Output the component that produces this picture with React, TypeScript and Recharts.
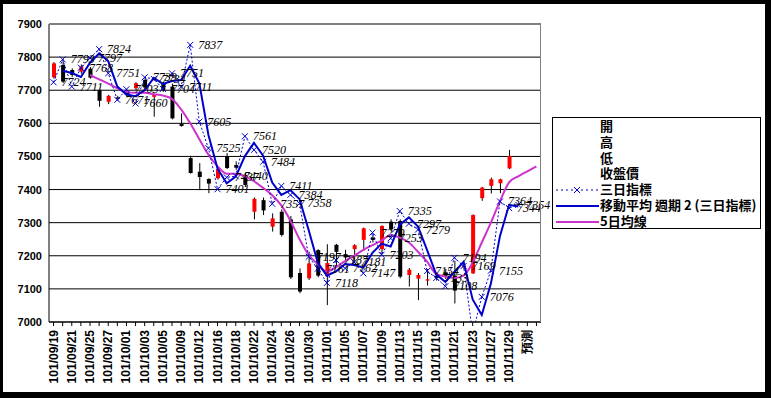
import React from 'react';
import { ComposedChart, Bar, Line, XAxis, YAxis, CartesianGrid, LabelList } from 'recharts';

// trading days, the last two slots are the forecast columns
const dates = [
  '101/09/19', '101/09/20', '101/09/21', '101/09/24', '101/09/25', '101/09/26', '101/09/27', '101/09/28',
  '101/10/01', '101/10/02', '101/10/03', '101/10/04', '101/10/05', '101/10/08', '101/10/09', '101/10/11',
  '101/10/12', '101/10/15', '101/10/16', '101/10/17', '101/10/18', '101/10/19', '101/10/22', '101/10/23',
  '101/10/24', '101/10/25', '101/10/26', '101/10/29', '101/10/30', '101/10/31', '101/11/01', '101/11/02',
  '101/11/05', '101/11/06', '101/11/07', '101/11/08', '101/11/09', '101/11/12', '101/11/13', '101/11/14',
  '101/11/15', '101/11/16', '101/11/19', '101/11/20', '101/11/21', '101/11/22', '101/11/23', '101/11/26',
  '101/11/27', '101/11/28', '101/11/29', '101/11/30', '預測', '',
];

// 開 高 低 收盤價
const opens = [
  7739, 7776, 7761, 7756, 7765, 7700, 7665, 7678, 7695, 7706, 7731, 7680, 7720, 7711, 7598, 7495,
  7454, 7432, 7434, 7500, 7474, 7444, 7333, 7368, 7288, 7333, 7310, 7148, 7132, 7217, 7138, 7233,
  7205, 7220, 7248, 7255, 7220, 7303, 7305, 7142, 7131, 7125, 7140, 7150, 7140, 7165, 7147, 7374,
  7411, 7419, 7464,
];
const highs = [
  7785, 7793, 7766, 7778, 7770, 7703, 7686, 7683, 7700, 7724, 7738, 7690, 7725, 7720, 7630, 7502,
  7480, 7434, 7468, 7510, 7485, 7448, 7376, 7376, 7328, 7340, 7320, 7162, 7212, 7220, 7235, 7236,
  7218, 7235, 7285, 7262, 7292, 7310, 7310, 7163, 7148, 7160, 7150, 7160, 7185, 7175, 7325, 7408,
  7436, 7433, 7520,
];
const lows = [
  7735, 7722, 7740, 7750, 7735, 7650, 7658, 7668, 7680, 7700, 7700, 7620, 7695, 7612, 7590, 7448,
  7398, 7389, 7430, 7462, 7460, 7408, 7310, 7323, 7273, 7258, 7130, 7087, 7127, 7135, 7051, 7167,
  7180, 7178, 7215, 7240, 7205, 7275, 7132, 7107, 7066, 7110, 7125, 7130, 7056, 7160, 7145, 7366,
  7388, 7389, 7462,
];
const closes = [
  7781, 7726, 7746, 7772, 7738, 7668, 7683, 7674, 7685, 7721, 7708, 7686, 7700, 7615, 7592, 7450,
  7438, 7418, 7462, 7465, 7466, 7414, 7372, 7337, 7313, 7263, 7135, 7092, 7177, 7140, 7178, 7212,
  7195, 7232, 7283, 7248, 7290, 7280, 7137, 7158, 7142, 7129, 7133, 7140, 7095, 7170, 7323, 7406,
  7431, 7431, 7501,
];

// 三日指標
const threeDay = [
  7724, 7793, 7711, 7768, 7797, 7824, 7751, 7671, 7703, 7660, 7739, 7734, 7704, 7751, 7711, 7837,
  7605, 7525, 7401, 7437, 7440, 7561, 7520, 7484, 7357, 7411, 7384, 7358, 7197, 7161, 7118, 7187,
  7162, 7181, 7147, 7270, 7203, 7253, 7335, 7297, 7279, 7154, 7133, 7108, 7194, 7169, 6966, 7076,
  7155, 7364, 7344, 7354,
];

// 移動平均 週期 2 (三日指標)
const threeDayAvg = [
  null, 7759, 7752, 7740, 7783, 7811, 7788, 7711, 7687, 7682, 7700, 7737, 7719, 7728, 7731, 7774,
  7721, 7565, 7463, 7419, 7439, 7501, 7541, 7502, 7421, 7384, 7398, 7371, 7278, 7179, 7140, 7153,
  7175, 7172, 7164, 7209, 7237, 7228, 7294, 7316, 7288, 7217, 7144, 7121, 7151, 7182, 7068, 7021,
  7116, 7260, 7354, 7349,
];

// 5日均線
const ma5 = [
  null, null, null, null, 7746, 7733, 7720, 7706, 7695, 7692, 7692, 7688, 7684, 7674, 7642, 7600,
  7552, 7505, 7470, 7448, 7448, 7440, 7425, 7405, 7383, 7352, 7306, 7250, 7203, 7174, 7152, 7166,
  7184, 7200, 7218, 7232, 7246, 7262, 7255, 7240, 7212, 7182, 7145, 7137, 7133, 7140, 7180, 7240,
  7300, 7365, 7422, 7440, 7455, 7470,
];

const yTicks = [7000, 7100, 7200, 7300, 7400, 7500, 7600, 7700, 7800, 7900];

const data = dates.map((date, i) => ({
  date,
  open: opens[i],
  high: highs[i],
  low: lows[i],
  close: closes[i],
  threeDay: threeDay[i] ?? null,
  threeDayAvg: threeDayAvg[i] ?? null,
  ma5: ma5[i] ?? null,
}));

const BLUE = '#0000CC';
const MAGENTA = '#CC33CC';

const Candle = (props: any) => {
  const { x, y, width, height, payload } = props;
  if (!payload || payload.open == null) return null;
  const { open, high, low, close } = payload;
  const top = Math.min(y, y + height);
  const h = Math.abs(height);
  const ratio = h / (high - low);
  const yOf = (v: number) => top + (high - v) * ratio;
  const bodyTop = yOf(Math.max(open, close));
  const bodyBottom = yOf(Math.min(open, close));
  const cx = x + width / 2;
  return (
    <g>
      <line x1={cx} x2={cx} y1={top} y2={top + h} stroke="#000" strokeWidth={1} />
      <rect
        x={x}
        y={bodyTop}
        width={width}
        height={Math.max(bodyBottom - bodyTop, 1)}
        fill={close >= open ? '#FF0000' : '#000000'}
      />
    </g>
  );
};

const CrossDot = (props: any) => {
  const { cx, cy, value } = props;
  if (value == null || cy == null || isNaN(cy)) return null;
  return (
    <path
      d={`M${cx - 3},${cy - 3}L${cx + 3},${cy + 3}M${cx - 3},${cy + 3}L${cx + 3},${cy - 3}`}
      stroke={BLUE}
      strokeWidth={1}
      fill="none"
    />
  );
};

const ValueLabel = (props: any) => {
  const { value } = props;
  const x = props.viewBox?.x ?? props.x;
  const y = props.viewBox?.y ?? props.y;
  if (value == null || value < 7000 || x == null) return null;
  return (
    <text
      x={x + 8}
      y={y + 4}
      fontSize={12}
      fontStyle="italic"
      fontFamily="'Liberation Serif', serif"
      fill="#000"
    >
      {value}
    </text>
  );
};

const YTick = (props: any) => {
  const { y, payload } = props;
  return (
    <text x={42} y={y + 4} textAnchor="end" fontSize={11} fontWeight="bold" fontFamily="'Liberation Sans', sans-serif" fill="#000">
      {payload.value}
    </text>
  );
};

const XTick = (props: any) => {
  const { x, y, payload, index } = props;
  if (index % 2 !== 0 || !payload.value) return null;
  return (
    <text
      transform={`translate(${x + 4},${y + 2}) rotate(-90)`}
      textAnchor="end"
      fontSize={12}
      fontWeight="bold"
      fontFamily="'Liberation Sans', sans-serif"
      fill="#000"
    >
      {payload.value}
    </text>
  );
};

const legendRows = [
  { name: '開', kind: 'none' },
  { name: '高', kind: 'none' },
  { name: '低', kind: 'none' },
  { name: '收盤價', kind: 'none' },
  { name: '三日指標', kind: 'dotted' },
  { name: '移動平均 週期 2 (三日指標)', kind: 'blue' },
  { name: '5日均線', kind: 'magenta' },
];

const ChartLegend = () => (
  <div
    style={{
      position: 'absolute',
      left: 552,
      top: 117,
      width: 207,
      height: 110,
      border: '1px solid #000',
      background: '#fff',
      fontFamily: "'Noto Sans CJK TC', sans-serif",
      fontSize: 13,
      fontWeight: 'bold',
    }}
  >
    {legendRows.map((r, i) => (
      <div key={r.name} style={{ position: 'absolute', left: 0, top: 1 + i * 15.8, height: 16, width: 207 }}>
        <svg width={46} height={16} style={{ position: 'absolute', left: 2, top: 0 }}>
          {r.kind === 'dotted' && (
            <g>
              <line x1={1} x2={44} y1={8} y2={8} stroke={BLUE} strokeDasharray="2 3" />
              <path d="M19,5L25,11M19,11L25,5" stroke={BLUE} />
            </g>
          )}
          {r.kind === 'blue' && <line x1={1} x2={44} y1={8} y2={8} stroke={BLUE} strokeWidth={2} />}
          {r.kind === 'magenta' && <line x1={1} x2={44} y1={8} y2={8} stroke={MAGENTA} strokeWidth={2} />}
        </svg>
        <span style={{ position: 'absolute', left: 47, top: -2, whiteSpace: 'nowrap', lineHeight: '18px' }}>{r.name}</span>
      </div>
    ))}
  </div>
);

export default function App() {
  return (
    <div style={{ position: 'relative', width: 771, height: 398, background: '#000', overflow: 'hidden' }}>
      <style>{'body{margin:0}'}</style>
      <div style={{ position: 'absolute', left: 3, top: 4, width: 762, height: 388, background: '#fff' }} />
      <div style={{ position: 'absolute', left: 0, top: 0 }}>
        <ComposedChart width={771} height={398} data={data} margin={{ top: 24, right: 230, bottom: 0, left: 0 }}>
          <CartesianGrid vertical={false} stroke="#000" strokeWidth={1} />
          <XAxis
            dataKey="date"
            interval={0}
            height={76}
            tick={<XTick />}
            tickSize={4}
            axisLine={{ stroke: '#000' }}
            tickLine={{ stroke: '#000' }}
          />
          <YAxis
            width={49}
            domain={[7000, 7900]}
            ticks={yTicks}
            allowDataOverflow
            tick={<YTick />}
            tickLine={false}
            axisLine={{ stroke: '#000' }}
          />
          <Bar
            dataKey={(d: any) => (d.low != null ? [d.low, d.high] : null)}
            barSize={4}
            shape={Candle}
            isAnimationActive={false}
          />
          <Line
            dataKey="ma5"
            type="monotone"
            stroke={MAGENTA}
            strokeWidth={2}
            dot={false}
            isAnimationActive={false}
          />
          <Line
            dataKey="threeDayAvg"
            type="linear"
            stroke={BLUE}
            strokeWidth={2}
            dot={false}
            isAnimationActive={false}
          />
          <Line
            dataKey="threeDay"
            type="linear"
            stroke={BLUE}
            strokeWidth={1}
            strokeDasharray="2 2"
            dot={<CrossDot />}
            isAnimationActive={false}
          >
            <LabelList dataKey="threeDay" content={<ValueLabel />} />
          </Line>
        </ComposedChart>
      </div>
      <div
        style={{
          position: 'absolute',
          left: 49,
          top: 24,
          width: 491,
          height: 297,
          borderTop: '1px solid #808080',
          borderRight: '1px solid #808080',
          pointerEvents: 'none',
        }}
      />
      <ChartLegend />
    </div>
  );
}
